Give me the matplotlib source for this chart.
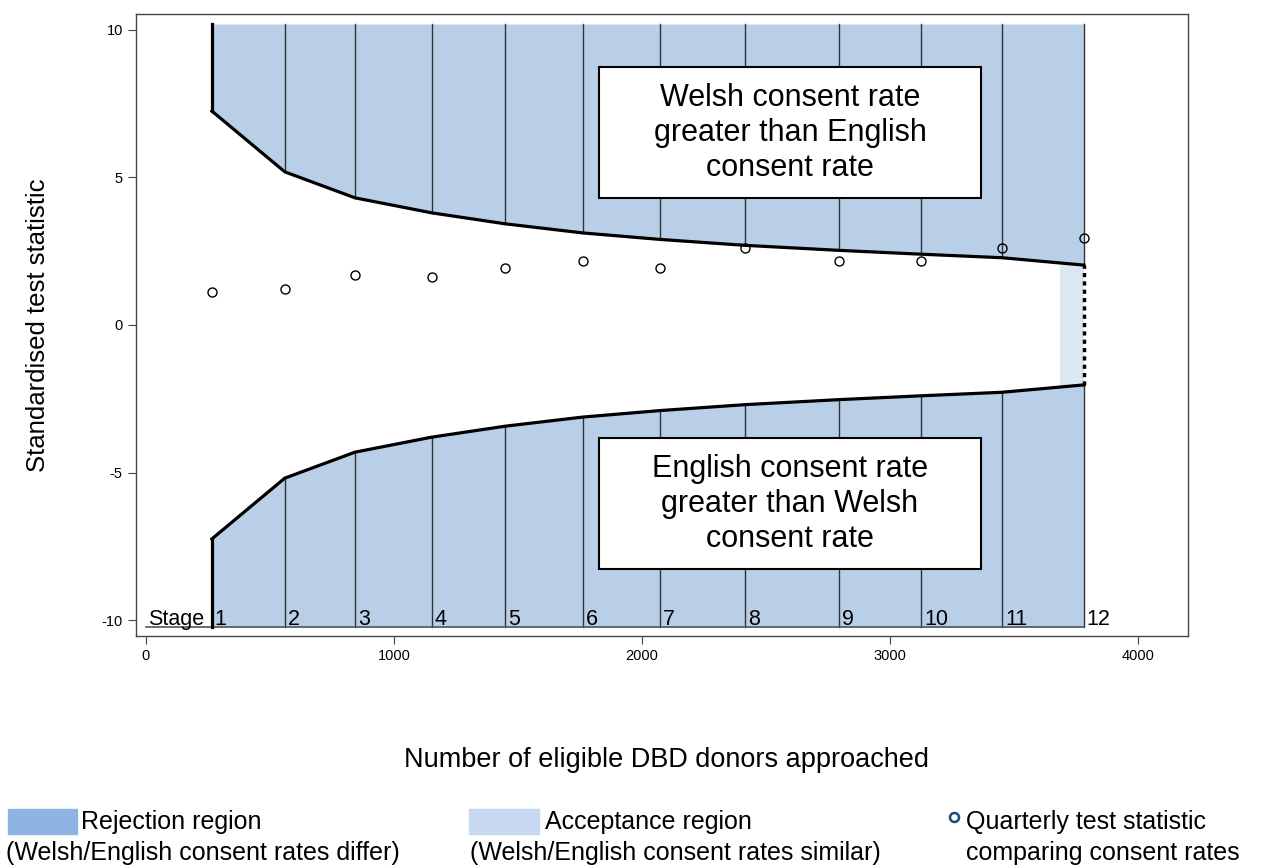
import matplotlib.pyplot as plt
from matplotlib.patches import Rectangle
from matplotlib.lines import Line2D

plt.rcParams['font.family'] = ['Liberation Sans', 'DejaVu Sans']
plt.rcParams['axes.unicode_minus'] = False

# stage boundaries (number of donors approached)
stage_n = [266, 560, 843, 1153, 1448, 1762, 2073, 2415, 2794, 3125, 3452, 3782]
stage_labels = ['1', '2', '3', '4', '5', '6', '7', '8', '9', '10', '11', '12']
upper_bound = [7.25, 5.19, 4.31, 3.80, 3.43, 3.12, 2.90, 2.70, 2.53, 2.40, 2.28, 2.03]
lower_bound = [-b for b in upper_bound]
test_stat = [1.12, 1.22, 1.69, 1.63, 1.93, 2.17, 1.93, 2.61, 2.17, 2.17, 2.61, 2.95]
accept_start = 3685
fill_top = 10.2
fill_bottom = -10.24

rej_col = '#b9cfe7'
acc_col = '#dde7f2'

fig = plt.figure(figsize=(12.76, 8.65), dpi=100)
ax = fig.add_axes([136/1276, 1 - 636/865, (1188-136)/1276, (636-14)/865])

# rejection regions
ax.fill_between(stage_n, upper_bound, fill_top, color=rej_col, lw=0, zorder=1)
ax.fill_between(stage_n, fill_bottom, lower_bound, color=rej_col, lw=0, zorder=1)
# acceptance region
ax.fill_between([accept_start, stage_n[-1]], [lower_bound[-1]] * 2, [upper_bound[-1]] * 2,
                color=acc_col, lw=0, zorder=1)

# stage lines
for n, u, l in zip(stage_n, upper_bound, lower_bound):
    ax.plot([n, n], [u, fill_top], color='#333333', lw=1, zorder=2)
    ax.plot([n, n], [fill_bottom, l], color='#333333', lw=1, zorder=2)

# boundaries
ax.plot(stage_n, upper_bound, color='black', lw=2.3, zorder=3)
ax.plot(stage_n, lower_bound, color='black', lw=2.3, zorder=3)
ax.plot([stage_n[0], stage_n[0]], [upper_bound[0], fill_top], color='black', lw=2.3, zorder=3)
ax.plot([stage_n[0], stage_n[0]], [fill_bottom, lower_bound[0]], color='black', lw=2.3, zorder=3)
ax.plot([stage_n[-1], stage_n[-1]], [lower_bound[-1], upper_bound[-1]], color='black',
        lw=2.5, ls=(0, (1.2, 1.2)), zorder=3)

# stage axis line and labels
ax.plot([0, stage_n[-1]], [fill_bottom, fill_bottom], color='#555555', lw=1.2, zorder=2)
ax.text(8, -10.18, 'Stage', fontsize=15.5, ha='left', va='baseline', zorder=4)
for n, lab in zip(stage_n, stage_labels):
    ax.text(n + 12, -10.18, lab, fontsize=15.5, ha='left', va='baseline', zorder=4)

# quarterly test statistics
ax.plot(stage_n, test_stat, 'o', ms=6.5, mfc='none', mec='black', mew=1, zorder=5)

# annotation boxes
box_kw = dict(facecolor='white', edgecolor='black', linewidth=1.5, zorder=6)
ax.add_patch(Rectangle((1827, 4.29), 3367 - 1827, 8.74 - 4.29, **box_kw))
ax.add_patch(Rectangle((1827, -8.27), 3367 - 1827, -3.84 + 8.27, **box_kw))
ax.text((1827 + 3367) / 2, (8.74 + 4.29) / 2,
        'Welsh consent rate\ngreater than English\nconsent rate',
        fontsize=22, ha='center', va='center', linespacing=1.22, zorder=7)
ax.text((1827 + 3367) / 2, (-8.27 - 3.84) / 2,
        'English consent rate\ngreater than Welsh\nconsent rate',
        fontsize=22, ha='center', va='center', linespacing=1.22, zorder=7)

ax.set_xlim(-40, 4202)
ax.set_ylim(-10.54, 10.54)
ax.set_xticks([0, 1000, 2000, 3000, 4000])
ax.set_yticks([-10, -5, 0, 5, 10])
ax.tick_params(labelsize=10.5, length=6, color='#444444')
for s in ax.spines.values():
    s.set_color('#444444')
    s.set_linewidth(1)

fig.text(38/1276, 1 - 325/865, 'Standardised test statistic', rotation=90,
         fontsize=18.5, ha='center', va='center')
fig.text(666/1276, 1 - 760/865, 'Number of eligible DBD donors approached',
         fontsize=19.5, ha='center', va='center')

# legend
fig.patches.append(Rectangle((8/1276, 1 - 834/865), 69/1276, 25/865,
                             transform=fig.transFigure, color='#8fb4e3', figure=fig))
fig.patches.append(Rectangle((469/1276, 1 - 834/865), 70/1276, 25/865,
                             transform=fig.transFigure, color='#c6d9f1', figure=fig))
leg_fs = 18
fig.text(81/1276, 1 - 822/865, 'Rejection region', fontsize=leg_fs, va='center')
fig.text(6/1276, 1 - 853/865, '(Welsh/English consent rates differ)', fontsize=leg_fs, va='center')
fig.text(545/1276, 1 - 822/865, 'Acceptance region', fontsize=leg_fs, va='center')
fig.text(470/1276, 1 - 853/865, '(Welsh/English consent rates similar)', fontsize=leg_fs, va='center')
fig.lines.append(Line2D([954/1276], [1 - 817/865], marker='o', ms=6.5, mfc='white',
                        mec='#1f497d', mew=1.8, transform=fig.transFigure, figure=fig))
fig.text(966/1276, 1 - 822/865, 'Quarterly test statistic', fontsize=leg_fs, va='center')
fig.text(966/1276, 1 - 853/865, 'comparing consent rates', fontsize=leg_fs, va='center')

fig.savefig('out.png', dpi=100)
